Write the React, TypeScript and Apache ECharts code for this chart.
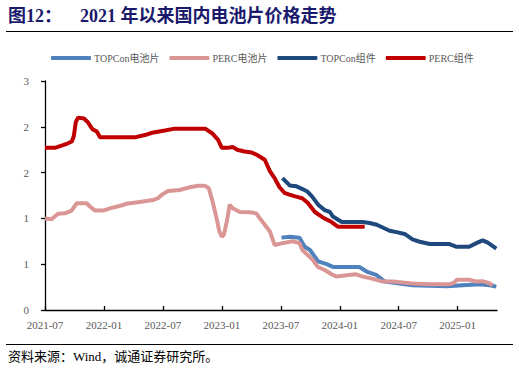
import React, { useEffect, useRef } from "react";
import * as echarts from "echarts";

const xTickLabels = ["2021-07", "2022-01", "2022-07", "2023-01", "2023-07", "2024-01", "2024-07", "2025-01"];
const yTickValues = [0, 0.5, 1, 1.5, 2, 2.5];

const topconCellDates = ["2023-07-03", "2023-07-28", "2023-08-28", "2023-09-14", "2023-09-30", "2023-10-25", "2023-11-21", "2023-12-10", "2024-03-01", "2024-03-23", "2024-04-24", "2024-05-18", "2024-08-13", "2024-11-27", "2025-01-16", "2025-03-08", "2025-04-09", "2025-04-29"];
const topconCellValues = [0.79, 0.8, 0.79, 0.69, 0.655, 0.53, 0.5, 0.47, 0.47, 0.42, 0.38, 0.31, 0.27, 0.26, 0.27, 0.28, 0.27, 0.255];

const percCellDates = ["2021-07-01", "2021-07-21", "2021-08-11", "2021-09-02", "2021-09-22", "2021-10-08", "2021-11-08", "2021-11-18", "2021-12-04", "2021-12-29", "2022-01-19", "2022-02-18", "2022-03-10", "2022-04-20", "2022-06-01", "2022-06-16", "2022-06-27", "2022-07-17", "2022-08-22", "2022-09-23", "2022-10-19", "2022-11-09", "2022-11-21", "2022-12-03", "2022-12-15", "2022-12-23", "2023-01-01", "2023-01-07", "2023-01-16", "2023-01-25", "2023-02-04", "2023-02-26", "2023-03-26", "2023-04-16", "2023-04-27", "2023-05-12", "2023-05-28", "2023-06-12", "2023-07-07", "2023-08-07", "2023-08-28", "2023-09-07", "2023-09-23", "2023-10-09", "2023-10-24", "2023-11-15", "2023-12-06", "2023-12-21", "2024-01-22", "2024-02-21", "2024-03-11", "2024-04-12", "2024-05-12", "2024-06-12", "2024-08-13", "2024-10-06", "2024-12-06", "2024-12-21", "2024-12-28", "2025-02-06", "2025-02-28", "2025-03-17", "2025-04-09", "2025-04-18"];
const percCellValues = [1.0, 0.99, 1.05, 1.055, 1.085, 1.165, 1.165, 1.13, 1.085, 1.085, 1.11, 1.135, 1.16, 1.18, 1.2, 1.22, 1.255, 1.3, 1.31, 1.34, 1.357, 1.357, 1.33, 1.18, 1.0, 0.86, 0.8, 0.82, 0.965, 1.15, 1.11, 1.07, 1.067, 1.055, 1.0, 0.93, 0.855, 0.71, 0.73, 0.75, 0.73, 0.655, 0.6, 0.546, 0.47, 0.437, 0.39, 0.365, 0.38, 0.39, 0.365, 0.34, 0.31, 0.31, 0.29, 0.28, 0.28, 0.3, 0.33, 0.33, 0.31, 0.315, 0.29, 0.27];

const topconModuleDates = ["2023-07-06", "2023-07-28", "2023-08-19", "2023-09-07", "2023-09-23", "2023-10-06", "2023-10-25", "2023-11-15", "2023-12-01", "2023-12-10", "2024-01-07", "2024-03-11", "2024-04-02", "2024-04-24", "2024-05-12", "2024-06-03", "2024-06-24", "2024-07-19", "2024-08-13", "2024-09-05", "2024-10-06", "2024-12-06", "2024-12-28", "2025-02-06", "2025-02-28", "2025-03-17", "2025-04-03", "2025-04-29"];
const topconModuleValues = [1.44, 1.36, 1.35, 1.32, 1.29, 1.24, 1.15, 1.09, 1.07, 1.02, 0.96, 0.96, 0.95, 0.93, 0.9, 0.865, 0.85, 0.83, 0.77, 0.745, 0.72, 0.72, 0.69, 0.69, 0.73, 0.76, 0.735, 0.67];

const percModuleDates = ["2021-07-01", "2021-08-01", "2021-08-10", "2021-08-26", "2021-09-11", "2021-09-23", "2021-09-29", "2021-10-05", "2021-10-12", "2021-10-30", "2021-11-12", "2021-11-21", "2021-11-27", "2021-12-09", "2021-12-19", "2022-04-05", "2022-05-06", "2022-05-28", "2022-07-07", "2022-08-07", "2022-11-10", "2022-12-01", "2022-12-19", "2023-01-01", "2023-01-19", "2023-02-04", "2023-02-18", "2023-03-10", "2023-04-02", "2023-04-20", "2023-05-12", "2023-05-27", "2023-06-12", "2023-06-27", "2023-07-12", "2023-07-27", "2023-08-15", "2023-09-06", "2023-09-23", "2023-10-15", "2023-11-09", "2023-12-06", "2023-12-25", "2024-03-17"];
const percModuleValues = [1.77, 1.77, 1.78, 1.8, 1.82, 1.84, 1.9, 2.05, 2.1, 2.09, 2.05, 2.0, 1.97, 1.95, 1.885, 1.885, 1.91, 1.935, 1.96, 1.98, 1.98, 1.93, 1.86, 1.77, 1.77, 1.78, 1.75, 1.73, 1.72, 1.69, 1.64, 1.52, 1.44, 1.34, 1.28, 1.26, 1.24, 1.22, 1.17, 1.07, 1.01, 0.96, 0.91, 0.91];

const seriesNames = ["TOPCon电池片", "PERC电池片", "TOPCon组件", "PERC组件"];
const seriesColors = ["#4F81BD", "#DA9694", "#1F497D", "#C00000"];

function monthOffset(d: string): number {
  const [y, m, day] = d.split("-").map(Number);
  return (y - 2021) * 12 + (m - 7) + (day - 1) / 30;
}

function offsetLabel(v: number): string {
  const k = Math.round(v);
  if (Math.abs(v - k) > 1e-6 || k % 6 !== 0) return "";
  const idx = k / 6;
  return xTickLabels[idx] || "";
}

function pairs(dates: string[], values: number[]) {
  return dates.map((d, i) => [monthOffset(d), values[i]]);
}

export default function App() {
  const ref = useRef<HTMLDivElement>(null);
  useEffect(() => {
    if (!ref.current) return;
    const chart = echarts.init(ref.current, undefined, { renderer: "svg" });
    const datasets = [
      pairs(topconCellDates, topconCellValues),
      pairs(percCellDates, percCellValues),
      pairs(topconModuleDates, topconModuleValues),
      pairs(percModuleDates, percModuleValues),
    ];
    const latin = "'Liberation Serif', 'Times New Roman', 'Noto Sans CJK SC', serif";
    chart.setOption({
      animation: false,
      backgroundColor: "#ffffff",
      graphic: [
        {
          type: "text",
          left: 8,
          top: 7,
          style: { text: "图12：", fontSize: 18, fontWeight: "bold", fill: "#1A1A6C", fontFamily: latin },
        },
        {
          type: "text",
          left: 80,
          top: 7,
          style: { text: "2021 年以来国内电池片价格走势", fontSize: 18, fontWeight: "bold", fill: "#1A1A6C", fontFamily: latin },
        },
        { type: "line", shape: { x1: 6, y1: 31.5, x2: 513, y2: 31.5 }, style: { stroke: "#000", lineWidth: 1.2 } },
        { type: "line", shape: { x1: 6, y1: 344.5, x2: 513, y2: 344.5 }, style: { stroke: "#000", lineWidth: 1.2 } },
        {
          type: "text",
          left: 8,
          top: 350,
          style: { text: "资料来源：Wind，诚通证券研究所。", fontSize: 13, fill: "#000", fontFamily: latin },
        },
      ],
      legend: {
        top: 53,
        left: 51,
        padding: 0,
        itemWidth: 40,
        itemHeight: 4,
        itemGap: 10,
        icon: "roundRect",
        data: seriesNames,
        textStyle: { fontSize: 10, color: "#595959", fontFamily: latin, padding: [0, 0, 0, -2] },
      },
      grid: { left: 45, right: 22, top: 81, bottom: 65, containLabel: false },
      xAxis: {
        type: "value",
        min: 0,
        max: 46,
        interval: 6,
        splitLine: { show: false },
        axisLine: { lineStyle: { color: "#000", width: 1.3 } },
        axisTick: { inside: true, length: 4, lineStyle: { color: "#000", width: 1.3 } },
        axisLabel: {
          showMaxLabel: false,
          margin: 9,
          fontSize: 11,
          color: "#595959",
          fontFamily: latin,
          formatter: (v: number) => offsetLabel(v),
        },
      },
      yAxis: {
        type: "value",
        min: yTickValues[0],
        max: yTickValues[yTickValues.length - 1],
        interval: 0.5,
        splitLine: { show: false },
        axisLine: { show: true, lineStyle: { color: "#000", width: 1.3 } },
        axisTick: { show: true, inside: false, length: 4, lineStyle: { color: "#000", width: 1.3 } },
        axisLabel: {
          margin: 16,
          fontSize: 11,
          color: "#595959",
          fontFamily: latin,
          formatter: (v: number) => String(Math.round(v)),
        },
      },
      series: seriesNames.map((name, i) => ({
        name,
        type: "line",
        data: datasets[i],
        showSymbol: false,
        symbol: "none",
        color: seriesColors[i],
        lineStyle: { width: 4, color: seriesColors[i] },
      })),
    });
    return () => chart.dispose();
  }, []);
  return <div ref={ref} style={{ width: 519, height: 375, position: "absolute", left: 0, top: 0 }} />;
}
